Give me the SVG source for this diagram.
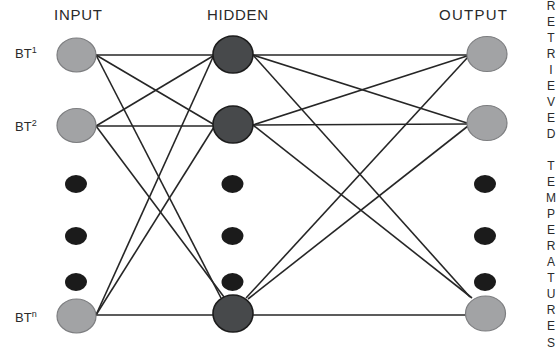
<svg xmlns="http://www.w3.org/2000/svg" width="559" height="351" viewBox="0 0 559 351">
  <style>
    .hdr { font-family: "Liberation Sans", Arial, sans-serif; font-size: 15px; fill: #2a2a2a; text-anchor: middle; }
    .lbl { font-family: "Liberation Sans", Arial, sans-serif; font-size: 13px; fill: #2a2a2a; }
    .sup { font-size: 9px; }
    .side { font-family: "Liberation Sans", Arial, sans-serif; font-size: 12px; fill: #2a2a2a; text-anchor: middle; }
    .edge { stroke: #262626; stroke-width: 1.6; fill: none; }
    .io { fill: #a2a3a5; stroke: #7d7e80; stroke-width: 1.2; }
    .hid { fill: #47494b; stroke: #1c1c1c; stroke-width: 1.6; }
    .dot { fill: #1b1b1b; }
  </style>

  <!-- column headers -->
  <text class="hdr" x="78" y="20" textLength="48" lengthAdjust="spacing">INPUT</text>
  <text class="hdr" x="237.5" y="20" textLength="61" lengthAdjust="spacing">HIDDEN</text>
  <text class="hdr" x="473" y="20" textLength="68" lengthAdjust="spacing">OUTPUT</text>

  <!-- input labels -->
  <text class="lbl" x="15" y="58">BT<tspan class="sup" dy="-5">1</tspan></text>
  <text class="lbl" x="15" y="131">BT<tspan class="sup" dy="-5">2</tspan></text>
  <text class="lbl" x="15" y="322">BT<tspan class="sup" dy="-5">n</tspan></text>

  <!-- vertical caption -->
  <text class="side" x="551" y="9.5"><tspan x="551">R</tspan><tspan x="551" dy="16.05">E</tspan><tspan x="551" dy="16.05">T</tspan><tspan x="551" dy="16.05">R</tspan><tspan x="551" dy="16.05">I</tspan><tspan x="551" dy="16.05">E</tspan><tspan x="551" dy="16.05">V</tspan><tspan x="551" dy="16.05">E</tspan><tspan x="551" dy="16.05">D</tspan><tspan x="551" dy="32.1">T</tspan><tspan x="551" dy="16.05">E</tspan><tspan x="551" dy="16.05">M</tspan><tspan x="551" dy="16.05">P</tspan><tspan x="551" dy="16.05">E</tspan><tspan x="551" dy="16.05">R</tspan><tspan x="551" dy="16.05">A</tspan><tspan x="551" dy="16.05">T</tspan><tspan x="551" dy="16.05">U</tspan><tspan x="551" dy="16.05">R</tspan><tspan x="551" dy="16.05">E</tspan><tspan x="551" dy="16.05">S</tspan></text>

  <!-- connectors -->
  <g id="connectors" class="edge">
    <!-- input to hidden -->
    <line x1="96" y1="55" x2="213" y2="55"/>
    <line x1="96" y1="55" x2="213" y2="124"/>
    <line x1="96" y1="55" x2="221" y2="298"/>
    <line x1="96" y1="126" x2="213" y2="56"/>
    <line x1="96" y1="126" x2="213" y2="126"/>
    <line x1="96" y1="126" x2="224" y2="297"/>
    <line x1="96" y1="315" x2="213" y2="57"/>
    <line x1="96" y1="315" x2="214" y2="127"/>
    <line x1="96" y1="315" x2="213" y2="315"/>
    <!-- hidden to output -->
    <line x1="253" y1="55" x2="467" y2="55"/>
    <line x1="253" y1="55" x2="467" y2="123"/>
    <line x1="253" y1="55" x2="470" y2="297"/>
    <line x1="253" y1="125" x2="467" y2="56"/>
    <line x1="253" y1="125" x2="467" y2="124"/>
    <line x1="253" y1="125" x2="472" y2="298"/>
    <line x1="246" y1="298" x2="468" y2="57"/>
    <line x1="248" y1="299" x2="468" y2="126"/>
    <line x1="253" y1="315" x2="466" y2="315"/>
  </g>

  <!-- input layer -->
  <g id="input-1"><ellipse class="io" cx="76.5" cy="55" rx="19.5" ry="17"/></g>
  <g id="input-2"><ellipse class="io" cx="76.5" cy="125.5" rx="19.5" ry="17"/></g>
  <g id="input-dots">
    <ellipse class="dot" cx="76" cy="184" rx="11" ry="9"/>
    <ellipse class="dot" cx="76" cy="236" rx="11" ry="9"/>
    <ellipse class="dot" cx="76" cy="282" rx="11" ry="9"/>
  </g>
  <g id="input-n"><ellipse class="io" cx="76.5" cy="316" rx="19.5" ry="17"/></g>

  <!-- hidden layer -->
  <g id="hidden-1"><ellipse class="hid" cx="233" cy="54.5" rx="20" ry="18.5"/></g>
  <g id="hidden-2"><ellipse class="hid" cx="233" cy="124.5" rx="20" ry="18.5"/></g>
  <g id="hidden-dots">
    <ellipse class="dot" cx="232.5" cy="184" rx="11" ry="9"/>
    <ellipse class="dot" cx="232.5" cy="236" rx="11" ry="9"/>
    <ellipse class="dot" cx="232.5" cy="282" rx="11" ry="9"/>
  </g>
  <g id="hidden-n"><ellipse class="hid" cx="233" cy="313.5" rx="20" ry="18.5"/></g>

  <!-- output layer -->
  <g id="output-1"><ellipse class="io" cx="487" cy="54" rx="20" ry="17.5"/></g>
  <g id="output-2"><ellipse class="io" cx="487" cy="123" rx="20" ry="17.5"/></g>
  <g id="output-dots">
    <ellipse class="dot" cx="485" cy="184" rx="11" ry="9"/>
    <ellipse class="dot" cx="485" cy="236" rx="11" ry="9"/>
    <ellipse class="dot" cx="485" cy="282" rx="11" ry="9"/>
  </g>
  <g id="output-n"><ellipse class="io" cx="485.5" cy="313.5" rx="20" ry="17.5"/></g>
</svg>
